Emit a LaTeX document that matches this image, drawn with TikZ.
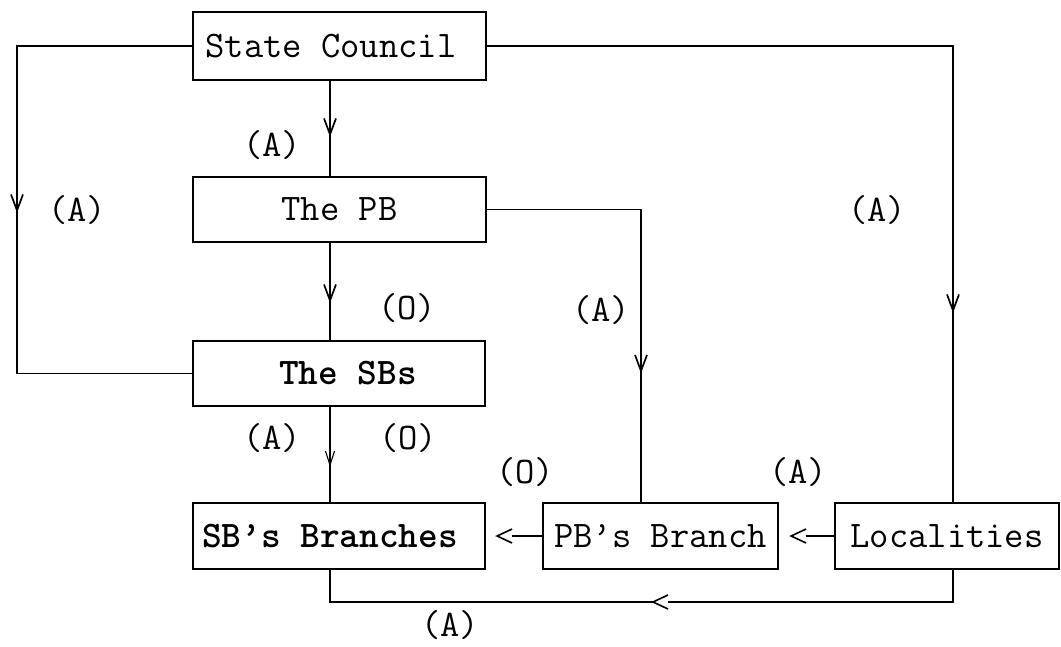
\documentclass[tikz,border=0pt]{standalone}
\usetikzlibrary{arrows.meta,decorations.markings}

\begin{document}
\begin{tikzpicture}[x=1pt,y=-1pt,
  txt/.style={font=\ttfamily\fontsize{37.5}{44}\selectfont},
  blk/.style={draw, txt, line width=1.8pt, minimum width=#1, minimum height=66pt, inner sep=0pt},
  lab/.style={txt, inner sep=0pt},
  conn/.style={line width=1.6pt},
  midtip/.style={postaction={decorate}, decoration={markings,
      mark=at position #1 with {\arrow{Straight Barb[length=16pt,width=12pt,line width=1.7pt]}}}},
  thintip/.style={postaction={decorate}, decoration={markings,
      mark=at position #1 with {\arrow{Straight Barb[length=14pt,width=9pt,line width=1.1pt]}}}},
  chev/.pic={\draw[line width=1.6pt] (15,-7) -- (0,0) -- (15,7);}
]
\useasboundingbox (0,0) rectangle (1061,647);

% boxes
\node[blk=293pt, minimum height=68pt] (sc) at (339.5,46) {\hspace*{-17pt}State Council};
\node[blk=293pt, minimum height=65pt] (pb) at (339.5,209.5) {The PB};
\node[blk=292pt, minimum height=65pt] (sbs) at (339,373.5) {\hspace*{18pt}\bfseries The SBs};
\node[blk=292pt] (sbb) at (339,536) {\hspace*{-18pt}\bfseries SB’s Branches};
\node[blk=235pt] (pbb) at (660.5,536) {PB’s Branch};
\node[blk=224pt] (loc) at (947,536) {Localities};

% columns of the vertical runs
\coordinate (cx) at (330,0);
\coordinate (lx) at (17,0);
\coordinate (px) at (641,0);
\coordinate (rx) at (953,0);

% State Council -> The SBs (left loop)
\draw[conn, midtip=342pt] (sc.west) -- (lx |- sc.west) -- (lx |- sbs.west) -- (sbs.west);
% State Council -> The PB
\draw[conn, midtip=56pt] (sc.south -| cx) -- (pb.north -| cx);
% The PB -> The SBs
\draw[conn, midtip=60pt] (pb.south -| cx) -- (sbs.north -| cx);
% The SBs -> SB's Branches
\draw[conn, thintip=60pt] (sbs.south -| cx) -- (sbb.north -| cx);
% The PB -> PB's Branch
\draw[conn, midtip=318pt] (pb.east) -- (px |- pb.east) -- (pbb.north -| px);
% State Council -> Localities
\draw[conn, midtip=733pt] (sc.east) -- (rx |- sc.east) -- (loc.north -| rx);

% Localities -> PB's Branch
\coordinate (lp) at ([xshift=-28pt]loc.west);
\draw[conn] (loc.west) -- (lp);
\pic at ([xshift=-15pt]lp) {chev};
% PB's Branch -> SB's Branches
\coordinate (ps) at ([xshift=-30pt]pbb.west);
\draw[conn] (pbb.west) -- (ps);
\pic at ([xshift=-15pt]ps) {chev};
% Localities -> SB's Branches (bottom loop)
\coordinate (bt) at (668,602);
\coordinate (bh) at (653,602);
\draw[conn] (loc.south -| rx) |- (bt);
\pic at (bh) {chev};
\draw[conn] (bh) -| (sbb.south -| cx);

% relation labels
\node[lab] (a1) at (272,145) {(A)};
\node[lab] (a2) at (77,210) {(A)};
\node[lab] (o1) at (407,308) {(O)};
\node[lab] (a3) at (877,210) {(A)};
\node[lab] (a4) at (601,310) {(A)};
\node[lab] (a5) at (272,438) {(A)};
\node[lab] (o2) at (408,438) {(O)};
\node[lab] (o3) at (525,472) {(O)};
\node[lab] (a6) at (798,472) {(A)};
\node[lab] (a7) at (450,625) {(A)};
\end{tikzpicture}
\end{document}
